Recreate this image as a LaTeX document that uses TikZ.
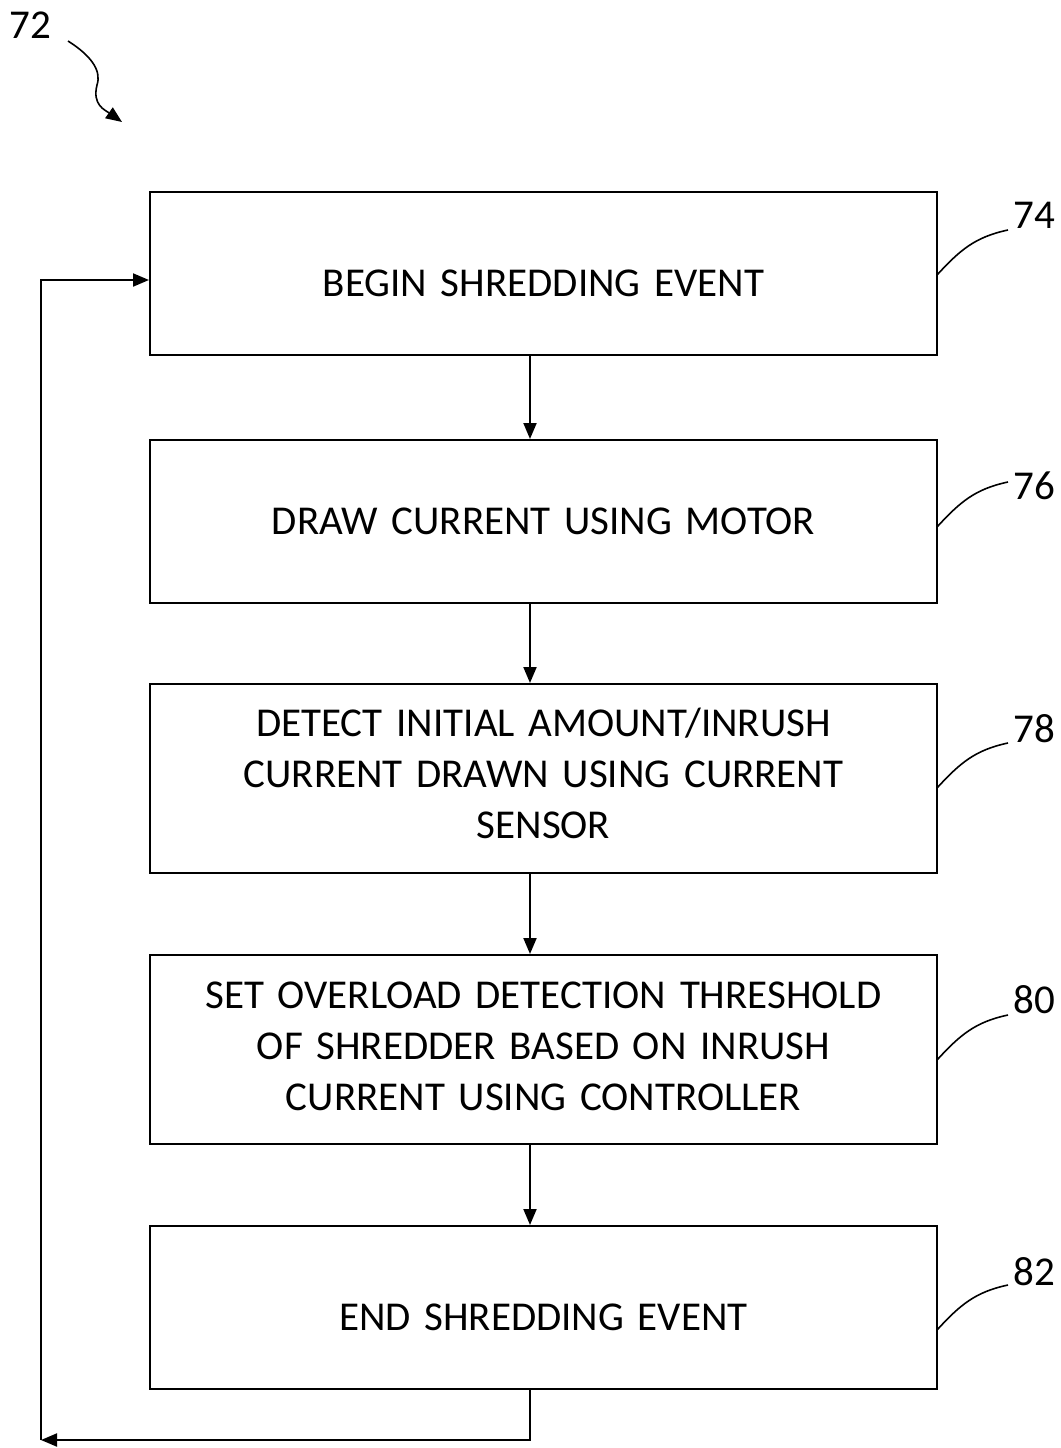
\documentclass[tikz,border=0pt]{standalone}
\usepackage{fontspec}
\setmainfont[WordSpace=0.85]{Carlito}
\usetikzlibrary{arrows.meta}
\begin{document}
\begin{tikzpicture}[x=1pt,y=-1pt,
  every node/.style={font=\fontsize{41}{51}\selectfont},
  stepbox/.style={draw,line width=2pt,minimum width=787pt,inner sep=0pt},
  steptext/.style={text width=760pt,align=center,inner sep=0pt},
  arr/.style={line width=2pt,-{Triangle[length=16pt,width=13pt]}},
  lead/.style={line width=1.6pt},
  lbl/.style={inner sep=0pt}]
\useasboundingbox (0,0) rectangle (1060,1448);
\node[stepbox,minimum height=163pt] (b74) at (543.5,273.5) {};
\node[stepbox,minimum height=163pt] (b76) at (543.5,521.5) {};
\node[stepbox,minimum height=189pt] (b78) at (543.5,778.5) {};
\node[stepbox,minimum height=189pt] (b80) at (543.5,1049.5) {};
\node[stepbox,minimum height=163pt] (b82) at (543.5,1307.5) {};
\node[steptext] (t74) at (543.5,283) {BEGIN SHREDDING EVENT};
\node[steptext] (t76) at (543.5,521) {DRAW CURRENT USING MOTOR};
\node[steptext] (t78) at (543.5,773) {DETECT INITIAL AMOUNT/INRUSH\\CURRENT DRAWN USING CURRENT\\SENSOR};
\node[steptext] (t80) at (543.5,1046) {SET OVERLOAD DETECTION THRESHOLD\\OF SHREDDER BASED ON INRUSH\\CURRENT USING CONTROLLER};
\node[steptext] (t82) at (543.5,1317) {END SHREDDING EVENT};
% arrows between steps
\draw[arr] (b74.south -| 530,0) -- (b76.north -| 530,0);
\draw[arr] (b76.south -| 530,0) -- (b78.north -| 530,0);
\draw[arr] (b78.south -| 530,0) -- (b80.north -| 530,0);
\draw[arr] (b80.south -| 530,0) -- (b82.north -| 530,0);
% feedback loop
\coordinate (lc) at (41,1440);
\coordinate (lt) at (41,280);
\draw[arr] (b82.south -| 530,0) -- (530,1440) -- (lc);
\draw[arr] (lc) -- (lt) -- (lt -| b74.west);
% reference labels
\node[lbl] (n72) at (30,25) {72};
\coordinate (s72) at (68,41);
\coordinate (e72) at (122,122);
\draw[arr,line width=1.6pt] (s72) .. controls (90,55) and (102,70) .. (97,85) .. controls (92,105) and (105,110) .. (e72);
\node[lbl] (n74) at (1034,215) {74};
\node[lbl] (n76) at (1034,486) {76};
\node[lbl] (n78) at (1034,729) {78};
\node[lbl] (n80) at (1034,1000) {80};
\node[lbl] (n82) at (1034,1272) {82};
\foreach \n/\b/\y in {74/b74/275,76/b76/527,78/b78/788,80/b80/1060,82/b82/1330}{
  \coordinate (a\n) at (937,\y);
  \coordinate (z\n) at (1008,\y-45);
  \draw[lead] (a\n) .. controls (960,\y-25) and (975,\y-38) .. (z\n);
}
\end{tikzpicture}
\end{document}
